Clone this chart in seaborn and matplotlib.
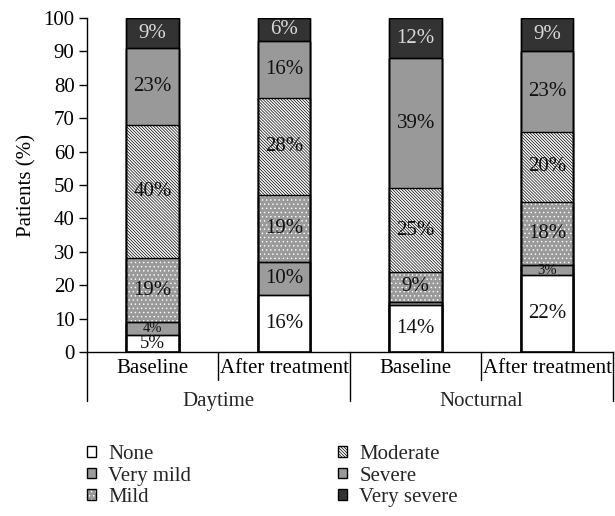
import numpy as np
import pandas as pd
import matplotlib
matplotlib.use("Agg")
import matplotlib.pyplot as plt
from matplotlib.patches import Patch
import seaborn as sns

# ---- data -------------------------------------------------------------
conditions = ["Daytime Baseline", "Daytime After treatment",
              "Nocturnal Baseline", "Nocturnal After treatment"]
tick_labels = ["Baseline", "After treatment", "Baseline", "After treatment"]
groups = ["Daytime", "Nocturnal"]
levels = ["None", "Very mild", "Mild", "Moderate", "Severe", "Very severe"]

none_vals = [5, 17, 14, 23]
very_mild_vals = [4, 10, 1, 3]
mild_vals = [19, 20, 9, 19]
moderate_vals = [40, 29, 25, 21]
severe_vals = [23, 17, 39, 24]
very_severe_vals = [9, 7, 12, 10]

none_lbl = ["5%", "16%", "14%", "22%"]
very_mild_lbl = ["4%", "10%", "", "3%"]
mild_lbl = ["19%", "19%", "9%", "18%"]
moderate_lbl = ["40%", "28%", "25%", "20%"]
severe_lbl = ["23%", "16%", "39%", "23%"]
very_severe_lbl = ["9%", "6%", "12%", "9%"]

values = [none_vals, very_mild_vals, mild_vals, moderate_vals, severe_vals, very_severe_vals]
labels = [none_lbl, very_mild_lbl, mild_lbl, moderate_lbl, severe_lbl, very_severe_lbl]

# styles per level
faces = ["white", "#9c9c9c", "#9a9a9a", "white", "#999999", "#333333"]
hatches = [None, None, "....", "\\" * 11, None, None]
hatch_cols = ["black", "black", "white", "black", "black", "black"]
text_cols = ["#111111", "#111111", "#111111", "#111111", "#111111", "#d8d8d8"]

# ---- table ------------------------------------------------------------
rows = []
for lev, vals in zip(levels, values):
    for c, v in zip(conditions, vals):
        rows.append({"condition": c, "level": lev, "value": v})
df = pd.DataFrame(rows)
df["cum"] = df.groupby("condition")["value"].cumsum()
df["bottom"] = df["cum"] - df["value"]

# ---- figure -----------------------------------------------------------
sns.set_theme(style="ticks")
plt.rcParams["font.family"] = ["Liberation Serif", "DejaVu Serif"]
plt.rcParams["hatch.linewidth"] = 0.5
plt.rcParams["axes.edgecolor"] = "black"
plt.rcParams["axes.linewidth"] = 1.0

fig = plt.figure(figsize=(6.15, 5.16), dpi=100)
ax = fig.add_axes([0.1415, 0.3178, 0.855, 0.6473])

FS = 15
# fills: draw cumulative bars from the top level down
for i in reversed(range(len(levels))):
    sub = df[df["level"] == levels[i]]
    kw = dict(color=faces[i], width=0.4, order=conditions, ax=ax,
              edgecolor=hatch_cols[i], linewidth=0 if hatches[i] else 1.0,
              saturation=1)
    if hatches[i]:
        kw["hatch"] = hatches[i]
    sns.barplot(data=sub, x="condition", y="cum", **kw)

# outlines
for i in reversed(range(len(levels))):
    sub = df[df["level"] == levels[i]]
    sns.barplot(data=sub, x="condition", y="cum", order=conditions, ax=ax,
                width=0.4, fill=False, color="black", linewidth=1.0)

# value labels
for i, lev in enumerate(levels):
    sub = df[df["level"] == lev].set_index("condition").loc[conditions]
    for j, c in enumerate(conditions):
        txt = labels[i][j]
        if not txt:
            continue
        v = sub.loc[c, "value"]
        fs = 10.5 if v < 5 else (13.5 if v < 6 else FS)
        ax.text(j, sub.loc[c, "bottom"] + v / 2, txt,
                ha="center", va="center", fontsize=fs, color=text_cols[i])

ax.set_ylim(0, 100)
ax.set_xlim(-0.5, 3.5)
ax.set_yticks(np.arange(0, 101, 10))
ax.tick_params(axis="y", labelsize=FS, length=6, width=1, pad=3, colors="black")
ax.set_xticks(range(len(conditions)))
ax.set_xticklabels(tick_labels, fontsize=FS)
ax.tick_params(axis="x", length=0, pad=5, colors="black")
ax.set_xlabel("")
ax.set_ylabel("Patients (%)", fontsize=FS, color="black", labelpad=5)
for s in ["top", "right"]:
    ax.spines[s].set_visible(False)

# category separators and group labels below the axis
tr = ax.get_xaxis_transform()
ax.plot([-0.5, -0.5], [0, -0.147], transform=tr, color="black", lw=1, clip_on=False)
for xpos, ybot in [(0.5, -0.085), (1.5, -0.147), (2.5, -0.085), (3.5, -0.147)]:
    ax.plot([xpos, xpos], [0, ybot], transform=tr, color="black", lw=1, clip_on=False)
for g, xc in zip(groups, [0.5, 2.5]):
    ax.text(xc, -0.148, g, transform=tr, ha="center", va="center", fontsize=FS)

# legend
handles = []
for i, lev in enumerate(levels):
    if hatches[i]:
        h = (Patch(facecolor=faces[i], edgecolor=hatch_cols[i], hatch=hatches[i], linewidth=0),
             Patch(facecolor="none", edgecolor="black", linewidth=1))
    else:
        h = Patch(facecolor=faces[i], edgecolor="black", linewidth=1)
    handles.append(h)

common = dict(frameon=False, fontsize=FS, handlelength=0.42, handleheight=0.42,
              handletextpad=0.6, labelspacing=0.13, borderpad=0, borderaxespad=0,
              loc="upper left")
fig.legend(handles[:3], levels[:3], bbox_to_anchor=(0.1415, 0.138), **common)
fig.legend(handles[3:], levels[3:], bbox_to_anchor=(0.5496, 0.138), **common)

fig.savefig("out.png", dpi=100)
